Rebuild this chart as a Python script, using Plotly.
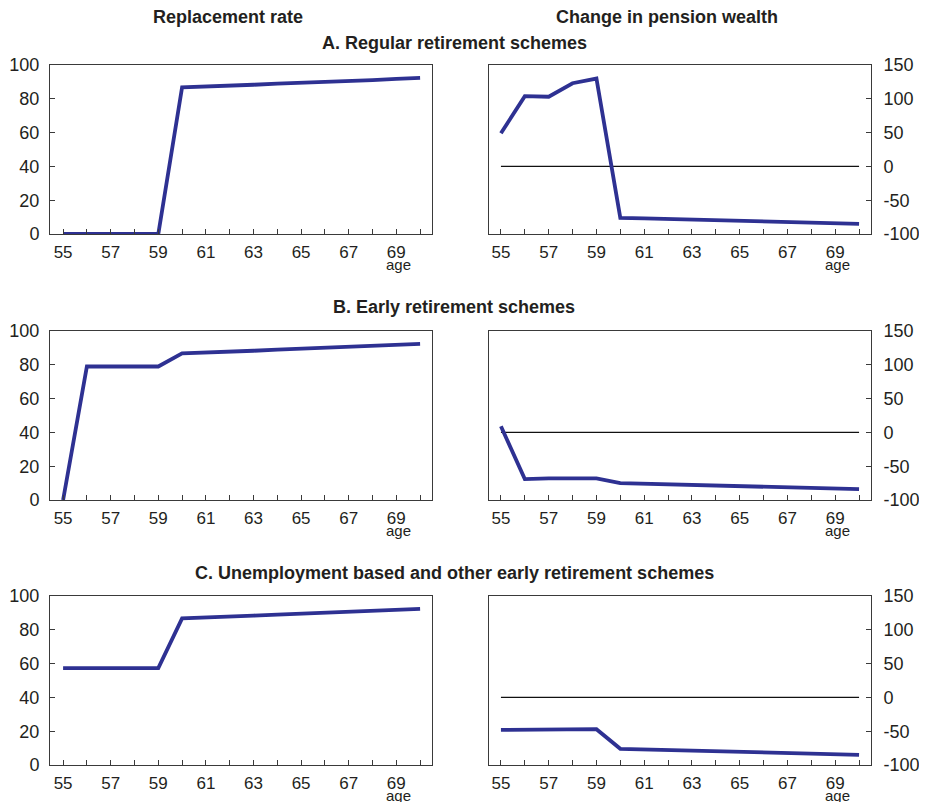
import plotly.graph_objects as go

ages = list(range(55, 71))
rr_regular = [0, 0, 0, 0, 0, 86.8, 87.2, 87.8, 88.3, 89.0, 89.4, 90.0, 90.4, 91.0, 91.8, 92.4]
pw_regular = [49, 104, 103, 123, 130, -76, -77, -78, -79, -80, -81, -81, -82, -83, -84, -85]
rr_early = [0, 79, 79, 79, 79, 86.8, 87.2, 87.8, 88.3, 89.0, 89.6, 90.0, 90.8, 91.2, 92.0, 92.4]
pw_early = [9, -69, -68, -68, -68, -75, -76, -77, -78, -78, -80, -80, -81, -82, -83, -84]
rr_unemp = [57.3, 57.3, 57.3, 57.3, 57.3, 86.8, 87.2, 87.8, 88.4, 89.0, 89.6, 90.0, 90.8, 91.2, 92.0, 92.4]
pw_unemp = [-48, -48, -47, -47, -47, -76, -77, -78, -79, -79, -80, -81, -82, -83, -84, -85]

rr_ticks = [0, 20, 40, 60, 80, 100]
pw_ticks = [-100, -50, 0, 50, 100, 150]
pw_labels = ["-100", "-50", "0", "50", "100", "150"]
x_labels = [str(a) if a % 2 == 1 else "" for a in ages]

col_titles = ["Replacement rate", "Change in pension wealth"]
row_titles = ["A. Regular retirement schemes", "B. Early retirement schemes",
              "C. Unemployment based and other early retirement schemes"]

# page body has an 8px margin, so the figure is drawn 8px lower/right
OFF = 8
W, H = 927 - OFF, 802 - OFF
LINE = "#2E3192"
AX = "#3a3a3a"
FONT = "Liberation Sans, Arial, sans-serif"
TXT = "#231F20"

# panel pixel boxes in page coordinates
cols_px = [(50, 432), (489, 871)]
rows_px = [(65, 234), (331, 500), (596, 765)]
xranges = [[54.45, 70.5], [54.5, 70.5]]


def px(v):
    return v - OFF


fig = go.Figure()
series = [(rr_regular, pw_regular), (rr_early, pw_early), (rr_unemp, pw_unemp)]

layout = dict(
    width=W, height=H,
    margin=dict(l=0, r=0, t=0, b=0, autoexpand=False),
    paper_bgcolor="white", plot_bgcolor="white",
    showlegend=False,
    font=dict(family=FONT, color=TXT),
    annotations=[],
)

idx = 0
for r, (rr, pw) in enumerate(series):
    for c in range(2):
        idx += 1
        xa = "xaxis" if idx == 1 else f"xaxis{idx}"
        ya = "yaxis" if idx == 1 else f"yaxis{idx}"
        xr = "x" if idx == 1 else f"x{idx}"
        yr = "y" if idx == 1 else f"y{idx}"
        l, rt = cols_px[c]
        t, b = rows_px[r]
        layout[xa] = dict(
            domain=[px(l) / W, px(rt) / W], anchor=yr, range=xranges[c],
            tickmode="array", tickvals=ages, ticktext=x_labels,
            ticks="inside", ticklen=5, tickcolor=AX, tickwidth=1,
            showline=True, linecolor=AX, linewidth=1, mirror=True,
            showgrid=False, zeroline=False, automargin=False,
            tickfont=dict(size=17, color=TXT, family=FONT),
            ticklabelstandoff=3,
        )
        if c == 0:
            layout[ya] = dict(
                domain=[1 - px(b) / H, 1 - px(t) / H], anchor=xr, range=[0, 100],
                tickmode="array", tickvals=rr_ticks,
                ticks="inside", ticklen=5, tickcolor=AX, tickwidth=1,
                showline=True, linecolor=AX, linewidth=1, mirror=True,
                showgrid=False, zeroline=False, automargin=False,
                tickfont=dict(size=18, color=TXT, family=FONT),
                ticklabelstandoff=6,
            )
            yvals = rr
        else:
            layout[ya] = dict(
                domain=[1 - px(b) / H, 1 - px(t) / H], anchor=xr, range=[-100, 150],
                side="right",
                tickmode="array", tickvals=pw_ticks, ticktext=pw_labels,
                ticks="inside", ticklen=5, tickcolor=AX, tickwidth=1,
                showline=True, linecolor=AX, linewidth=1, mirror=True,
                showgrid=False, zeroline=False, automargin=False,
                tickfont=dict(size=18, color=TXT, family=FONT),
                ticklabelstandoff=8,
            )
            yvals = pw
            fig.add_trace(go.Scatter(
                x=[ages[0], ages[-1]], y=[0, 0], mode="lines",
                line=dict(color="#111111", width=1.2),
                xaxis=xr, yaxis=yr, hoverinfo="skip"))
        fig.add_trace(go.Scatter(
            x=ages, y=yvals, mode="lines",
            line=dict(color=LINE, width=3.8),
            xaxis=xr, yaxis=yr))
        layout["annotations"].append(dict(
            text="age", xref=xr, yref=f"{yr} domain", x=69.1, y=0,
            yshift=-30, yanchor="middle", xanchor="center", showarrow=False,
            font=dict(size=15, color=TXT, family=FONT)))

# column titles
for c, title in enumerate(col_titles):
    cx = [228, 667][c]
    layout["annotations"].append(dict(
        text=f"<b>{title}</b>", xref="paper", yref="paper",
        x=px(cx) / W, y=1 - px(17) / H, xanchor="center", yanchor="middle",
        showarrow=False, font=dict(size=18, color=TXT, family=FONT)))

# row titles
for r, title in enumerate(row_titles):
    cy = [43, 307, 573][r]
    layout["annotations"].append(dict(
        text=f"<b>{title}</b>", xref="paper", yref="paper",
        x=px(454) / W, y=1 - px(cy) / H, xanchor="center", yanchor="middle",
        showarrow=False, font=dict(size=18, color=TXT, family=FONT)))

fig.update_layout(**layout)
fig.write_html("out.html")
